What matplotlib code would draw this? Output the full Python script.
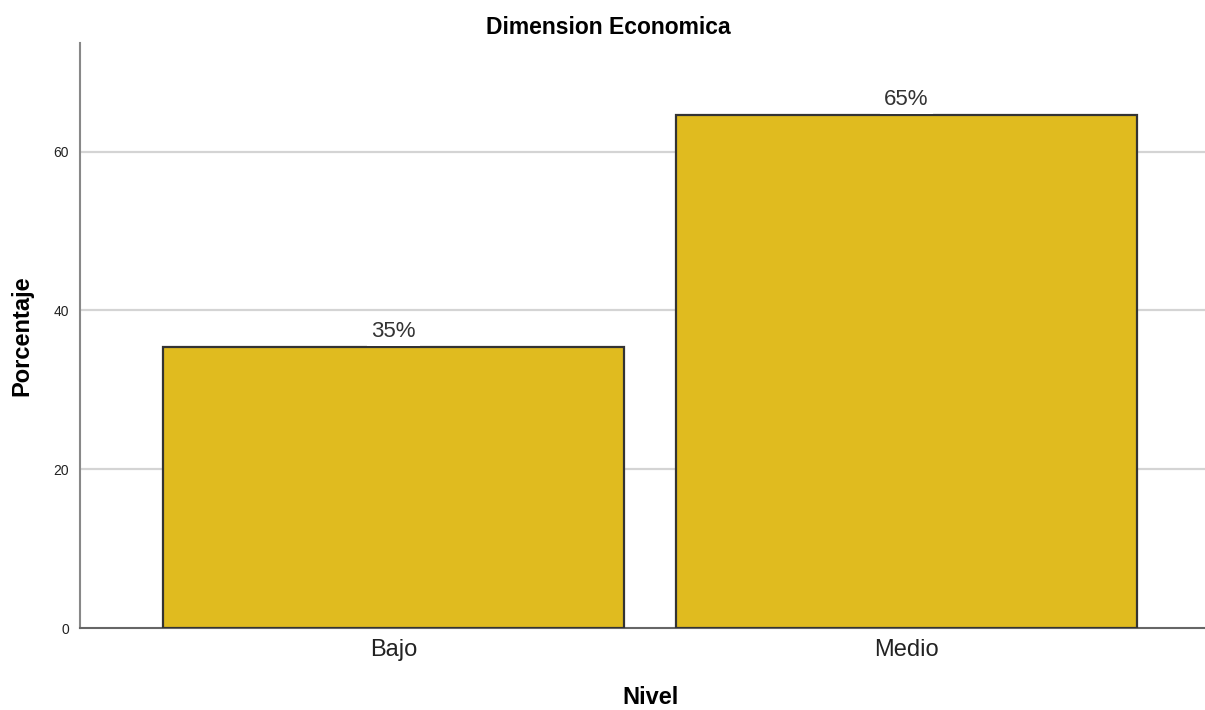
import matplotlib.pyplot as plt

categories = ['Bajo', 'Medio']
percentages = [35.4, 64.6]
labels = ['35%', '65%']
y_ticks = [0, 20, 40, 60]

plt.rcParams['font.family'] = ['Liberation Sans', 'DejaVu Sans']

fig = plt.figure(figsize=(12.05, 7.10), dpi=100)
ax = fig.add_axes([80 / 1205, 1 - 628 / 710, 1 - 80 / 1205, (628 - 43) / 710])

x = range(len(categories))
bars = ax.bar(x, percentages, width=0.9, color='#e0bb1f', edgecolor='#333333',
              linewidth=1.6, zorder=3)

for bar, lab in zip(bars, labels):
    ax.annotate(lab, (bar.get_x() + bar.get_width() / 2, bar.get_height()),
                xytext=(0, 7.2), textcoords='offset points', ha='center', va='baseline',
                fontsize=16, color='#333333', zorder=4,
                bbox=dict(boxstyle='square,pad=0.18', fc='white', ec='none'))

ax.set_xlim(-0.611, 1.582)
ax.set_ylim(0, 73.7)
ax.set_yticks(y_ticks)
ax.set_xticks(list(x))
ax.set_xticklabels(categories, fontsize=17, color='#222222')
ax.tick_params(axis='y', length=0, pad=8, labelsize=10, labelcolor='#222222')
ax.tick_params(axis='x', length=0, pad=8)

for v in y_ticks[1:]:
    ax.axhline(v, color='#d4d4d4', linewidth=1.6, zorder=1)

for s in ['top', 'right']:
    ax.spines[s].set_visible(False)
ax.spines['left'].set_color('#888888')
ax.spines['left'].set_linewidth(1.5)
ax.spines['bottom'].set_color('#666666')
ax.spines['bottom'].set_linewidth(1.5)

fig.text(608 / 1205, 1 - 27 / 710, 'Dimension Economica', fontsize=16.5,
         fontweight='bold', ha='center', va='center')
ax.set_ylabel('Porcentaje', fontsize=17, fontweight='bold')
ax.set_xlabel('Nivel', fontsize=17, fontweight='bold')
ax.yaxis.set_label_coords(-(80 - 22) / 1125, 0.5)
ax.xaxis.set_label_coords((650 - 80) / 1125, -(698 - 628) / 585)
ax.xaxis.label.set_va('center')
ax.yaxis.label.set_va('center')

fig.savefig('out.png', dpi=100)
